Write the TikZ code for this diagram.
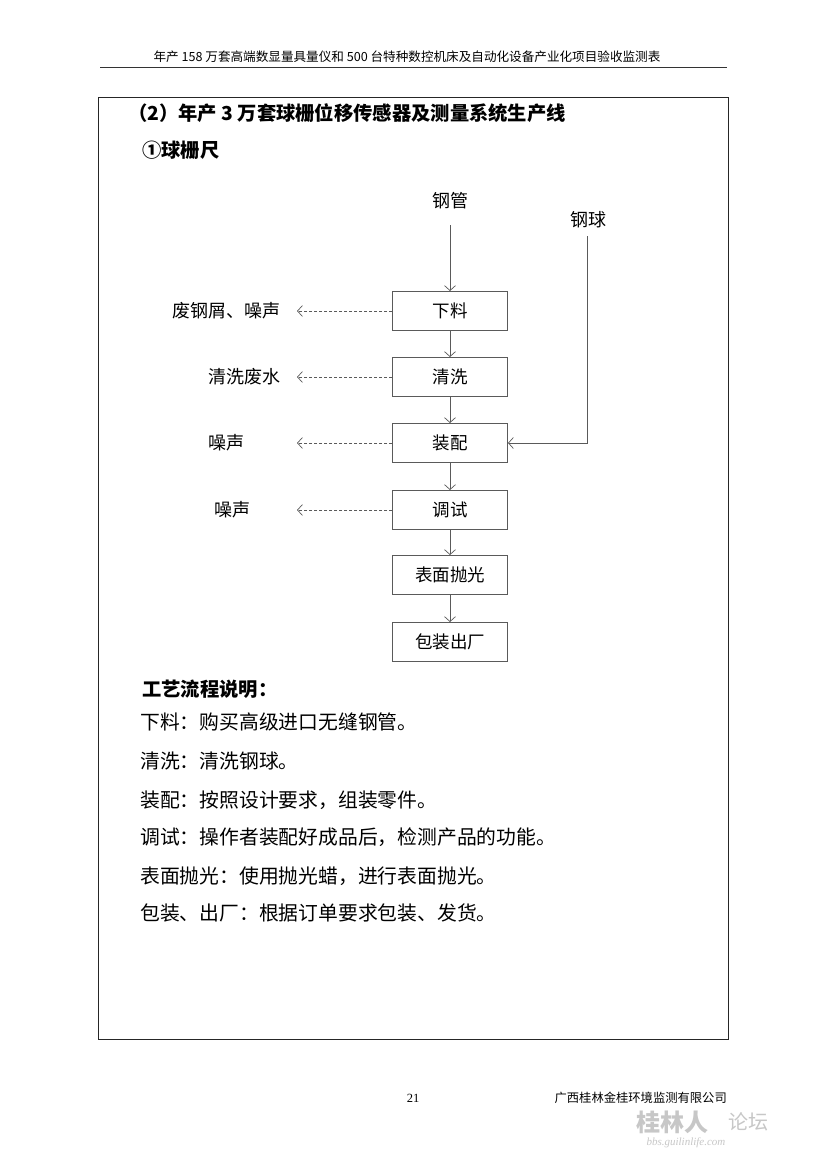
\documentclass[tikz,border=0pt]{standalone}
\usepackage{fontspec}
\setmainfont{Liberation Serif}
\newfontfamily\cjk{Noto Sans CJK SC}
\usetikzlibrary{arrows.meta}
\definecolor{ln}{HTML}{5A5A5A}
\tikzset{
  stepbox/.style={draw=ln, line width=0.9pt, minimum width=115pt, minimum height=39pt, inner sep=0pt, font=\cjk\fontsize{17.5}{17.5}\selectfont},
  flow/.style={draw=ln, line width=0.7pt, -{Straight Barb[length=5pt,width=11pt]}},
  waste/.style={draw=ln, line width=0.7pt, dash pattern=on 3pt off 2pt, -{Straight Barb[length=5pt,width=11pt]}},
  lbl/.style={font=\cjk\fontsize{18}{18}\selectfont, inner sep=0pt},
  body/.style={font=\cjk\fontsize{19.8}{19.8}\selectfont, anchor=west, inner sep=0pt},
  heading/.style={font=\cjk\bfseries\fontsize{19.3}{19.3}\selectfont, anchor=west, inner sep=0pt},
}
\begin{document}
\begin{tikzpicture}[x=1pt,y=-1pt]
\useasboundingbox (0,0) rectangle (827,1169);
\fill[white] (0,0) rectangle (827,1169);
% header
\node[font=\cjk\fontsize{12.6}{12.6}\selectfont, inner sep=0pt] (hdr) at (407,57) {年产 158 万套高端数显量具量仪和 500 台特种数控机床及自动化设备产业化项目验收监测表};
\draw[line width=0.8pt, black!80] (100,67) -- (727,67);
% frame
\draw[line width=0.8pt, black!85] (98,97) rectangle (728,1039);
% titles
\node[heading] (t1) at (128,113) {（2）年产 3 万套球栅位移传感器及测量系统生产线};
\node[heading] (t2) at (142,150) {①球栅尺};
% flow boxes
\node[stepbox] (b1) at (450,311) {下料};
\node[stepbox] (b2) at (450,377) {清洗};
\node[stepbox] (b3) at (450,443) {装配};
\node[stepbox] (b4) at (450,510) {调试};
\node[stepbox] (b5) at (450,575) {表面抛光};
\node[stepbox] (b6) at (450,642) {包装出厂};
% inputs
\node[lbl] (gg) at (450,201) {钢管};
\node[lbl] (gq) at (588,220) {钢球};
\coordinate (ggs) at (450,225);
\coordinate (gqs) at (587,236);
\coordinate (gqc) at (587,443);
\draw[flow] (ggs) -- (b1.north);
\draw[flow] (gqs) -- (gqc) -- (b3.east);
\draw[flow] (b1) -- (b2);
\draw[flow] (b2) -- (b3);
\draw[flow] (b3) -- (b4);
\draw[flow] (b4) -- (b5);
\draw[flow] (b5) -- (b6);
% wastes
\node[lbl, anchor=east] (w1) at (281,311) {废钢屑、噪声};
\node[lbl, anchor=east] (w2) at (281,377) {清洗废水};
\node[lbl, anchor=west] (w3) at (208,443) {噪声};
\node[lbl, anchor=west] (w4) at (214,510) {噪声};
\coordinate (e1) at (297,311);
\coordinate (e2) at (297,377);
\coordinate (e3) at (297,443);
\coordinate (e4) at (297,510);
\draw[waste] (b1.west) -- (e1);
\draw[waste] (b2.west) -- (e2);
\draw[waste] (b3.west) -- (e3);
\draw[waste] (b4.west) -- (e4);
% description
\node[heading] (d0) at (142,689) {工艺流程说明：};
\node[body] (d1) at (140,722) {下料：购买高级进口无缝钢管。};
\node[body] (d2) at (140,761) {清洗：清洗钢球。};
\node[body] (d3) at (140,800) {装配：按照设计要求，组装零件。};
\node[body] (d4) at (140,837) {调试：操作者装配好成品后，检测产品的功能。};
\node[body] (d5) at (140,876) {表面抛光：使用抛光蜡，进行表面抛光。};
\node[body] (d6) at (140,913) {包装、出厂：根据订单要求包装、发货。};
% footer
\node[font=\fontsize{12.5}{12.5}\selectfont, inner sep=0pt] (pg) at (413,1098) {21};
\node[font=\cjk\fontsize{12.3}{12.3}\selectfont, anchor=east, inner sep=0pt] (co) at (727,1098) {广西桂林金桂环境监测有限公司};
% watermark
\node[font=\cjk\bfseries\fontsize{24}{24}\selectfont, text=black!22, inner sep=0pt] (wm1) at (672,1122) {桂林人};
\node[font=\cjk\fontsize{20}{20}\selectfont, text=black!22, inner sep=0pt] (wm2) at (748,1122) {论坛};
\node[font=\itshape\fontsize{11}{11}\selectfont, text=black!22, inner sep=0pt] (wm3) at (686,1143) {bbs.guilinlife.com};
\end{tikzpicture}
\end{document}
